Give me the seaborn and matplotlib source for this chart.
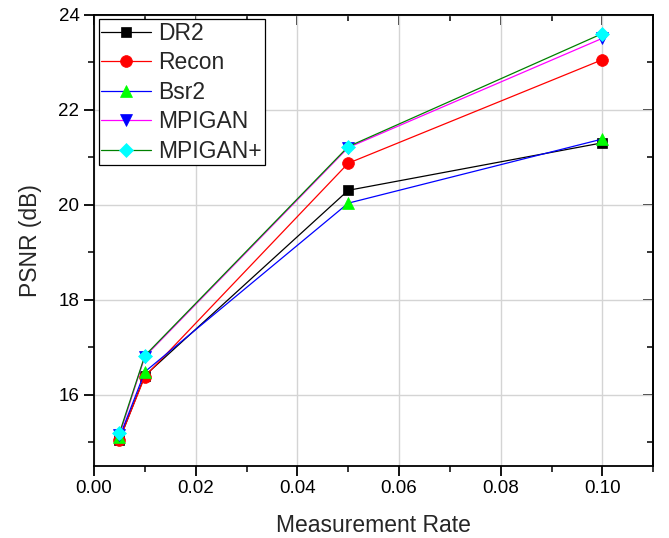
import matplotlib
matplotlib.use("Agg")
import matplotlib.pyplot as plt
from matplotlib.ticker import MultipleLocator, FormatStrFormatter
import pandas as pd
import seaborn as sns

rates = [0.005, 0.01, 0.05, 0.10]
methods = ["DR2", "Recon", "Bsr2", "MPIGAN", "MPIGAN+"]
psnr_dr2 = [15.05, 16.40, 20.30, 21.30]
psnr_recon = [15.05, 16.38, 20.87, 23.05]
psnr_bsr2 = [15.10, 16.48, 20.03, 21.38]
psnr_mpigan = [15.15, 16.80, 21.20, 23.50]
psnr_mpigan_plus = [15.19, 16.82, 21.22, 23.60]

series = {
    "DR2": psnr_dr2,
    "Recon": psnr_recon,
    "Bsr2": psnr_bsr2,
    "MPIGAN": psnr_mpigan,
    "MPIGAN+": psnr_mpigan_plus,
}
df = pd.concat(
    [pd.DataFrame({"rate": rates, "psnr": vals, "method": name}) for name, vals in series.items()],
    ignore_index=True,
)

# line colour, marker, marker colour, marker size
styles = {
    "DR2": ("black", "s", "black", 7),
    "Recon": ("red", "o", "red", 8.5),
    "Bsr2": ("blue", "^", "#00ff00", 9),
    "MPIGAN": ("#ff00ff", "v", "blue", 9),
    "MPIGAN+": ("#008000", "D", "cyan", 7.5),
}

sns.set_theme(style="ticks")
plt.rcParams["font.family"] = ["Liberation Sans", "DejaVu Sans"]

fig = plt.figure(figsize=(6.69, 5.38), dpi=100)
ax = fig.add_axes([0.1405, 0.134, 0.836, 0.839])

for name in methods:
    lc, mk, mc, ms = styles[name]
    sns.lineplot(
        data=df[df["method"] == name], x="rate", y="psnr", ax=ax,
        color=lc, marker=mk, markersize=ms, markerfacecolor=mc,
        markeredgecolor=mc, markeredgewidth=0.5, linewidth=0.9,
        label=name, sort=True, errorbar=None,
    )

ax.set_xlim(0, 0.11)
ax.set_ylim(14.5, 24)
ax.xaxis.set_major_locator(MultipleLocator(0.02))
ax.xaxis.set_minor_locator(MultipleLocator(0.01))
ax.yaxis.set_major_locator(MultipleLocator(2))
ax.yaxis.set_minor_locator(MultipleLocator(1))
ax.xaxis.set_major_formatter(FormatStrFormatter("%.2f"))
ax.yaxis.set_major_formatter(FormatStrFormatter("%d"))

ax.grid(True, which="major", color="#d4d4d4", linewidth=1.0)
ax.set_axisbelow(True)

for sp in ax.spines.values():
    sp.set_visible(True)
    sp.set_color("black")
    sp.set_linewidth(1.3)

ax.tick_params(axis="both", which="major", direction="out", length=7, width=1.3,
               labelsize=13.5, colors="black", top=False, right=False)
ax.tick_params(axis="both", which="minor", direction="out", length=4, width=1.3,
               top=False, right=False)
# inward ticks on the mirrored top and right axes
sec_x = ax.secondary_xaxis("top")
sec_x.xaxis.set_major_locator(MultipleLocator(0.02))
sec_x.xaxis.set_minor_locator(MultipleLocator(0.01))
sec_x.tick_params(which="major", direction="in", length=7, width=1.3, labeltop=False)
sec_x.tick_params(which="minor", direction="in", length=4, width=1.3)
sec_x.spines["top"].set_linewidth(1.3)
sec_y = ax.secondary_yaxis("right")
sec_y.yaxis.set_major_locator(MultipleLocator(2))
sec_y.yaxis.set_minor_locator(MultipleLocator(1))
sec_y.tick_params(which="major", direction="in", length=7, width=1.3, labelright=False)
sec_y.tick_params(which="minor", direction="in", length=4, width=1.3)
sec_y.spines["right"].set_linewidth(1.3)

ax.set_xlabel("Measurement Rate", fontsize=16.5, labelpad=12)
ax.set_ylabel("PSNR (dB)", fontsize=16.5, labelpad=12)

leg = ax.legend(loc="upper left", fontsize=16.5, frameon=True, fancybox=False,
                edgecolor="black", framealpha=1, borderaxespad=0.2,
                handlelength=2.15, handletextpad=0.35, labelspacing=0.28,
                borderpad=0.12)
leg.get_frame().set_linewidth(0.9)

fig.savefig("out.png", dpi=100)
